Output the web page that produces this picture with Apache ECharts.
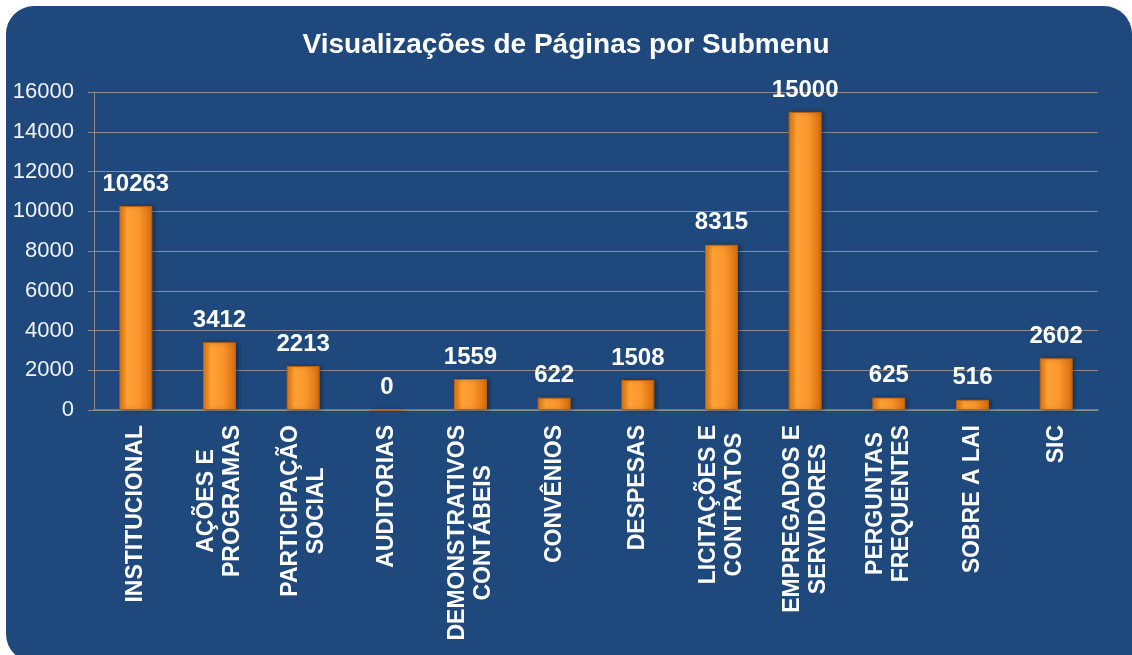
<!DOCTYPE html>
<html>
<head>
<meta charset="utf-8">
<script src="https://cdn.jsdelivr.net/npm/echarts@6/dist/echarts.min.js"></script>
<style>
  html, body { margin: 0; padding: 0; background: #fff; }
  #chart { width: 1132px; height: 655px; }
</style>
</head>
<body>
<div id="chart"></div>
<script>
// categories as written on the axis (line breaks as in the picture)
const categories = [
    'INSTITUCIONAL',
    'AÇÕES E\nPROGRAMAS',
    'PARTICIPAÇÃO\nSOCIAL',
    'AUDITORIAS',
    'DEMONSTRATIVOS\nCONTÁBEIS',
    'CONVÊNIOS',
    'DESPESAS',
    'LICITAÇÕES E\nCONTRATOS',
    'EMPREGADOS E\nSERVIDORES',
    'PERGUNTAS\nFREQUENTES',
    'SOBRE A LAI',
    'SIC'
]
const pageViews = [10263, 3412, 2213, 0, 1559, 622, 1508, 8315, 15000, 625, 516, 2602]
const yTicks = [0, 2000, 4000, 6000, 8000, 10000, 12000, 14000, 16000]

const FONT = '"Liberation Sans", Arial, sans-serif'
const PANEL = '#1f497d'

const barColor = {
    type: 'linear', x: 0, y: 0, x2: 1, y2: 0,
    colorStops: [
        { offset: 0, color: '#e07a12' },
        { offset: 0.25, color: '#ffa134' },
        { offset: 0.6, color: '#fa962c' },
        { offset: 1, color: '#d46b0e' }
    ]
}

let option = {
    animation: false,
    graphic: [
        {
            type: 'rect',
            z: -10,
            shape: { x: 6, y: 6, width: 1126, height: 656, r: 28 },
            style: { fill: PANEL }
        },
        {
            // the panel runs off the picture at the bottom right
            type: 'rect',
            z: -10,
            shape: { x: 600, y: 300, width: 540, height: 360 },
            style: { fill: PANEL }
        }
    ],
    title: {
        text: 'Visualizações de Páginas por Submenu',
        left: 'center',
        top: 26,
        textStyle: { color: '#fff', fontSize: 28, fontWeight: 'bold', fontFamily: FONT }
    },
    grid: { left: 94, right: 34, top: 92, bottom: 245 },
    xAxis: {
        type: 'category',
        data: categories,
        axisLine: { lineStyle: { color: '#8c8c8c', width: 1.5 } },
        axisTick: { length: 6, lineStyle: { color: '#8c8c8c' } },
        axisLabel: {
            rotate: 90,
            margin: 15,
            interval: 0,
            formatter: v => v.split('\n').map(s => '{c|' + s + '}').join('\n'),
            rich: {
                c: {
                    align: 'center',
                    color: '#fff',
                    fontSize: 23,
                    fontWeight: 'bold',
                    fontFamily: FONT,
                    lineHeight: 26
                }
            }
        }
    },
    yAxis: {
        type: 'value',
        min: yTicks[0],
        max: yTicks[yTicks.length - 1],
        interval: yTicks[1] - yTicks[0],
        axisLine: { show: true, lineStyle: { color: '#8c8c8c' } },
        axisTick: { show: true, length: 6, lineStyle: { color: '#8c8c8c' } },
        axisLabel: {
            color: '#f2f2f2', fontSize: 22, fontFamily: FONT, margin: 20,
            formatter: v => String(v)
        },
        splitLine: { lineStyle: { color: '#8c8c8c', width: 1 } }
    },
    series: [{
        name: 'Visualizações',
        type: 'bar',
        data: pageViews,
        barWidth: 33,
        itemStyle: {
            color: barColor,
            borderColor: '#bd600e',
            borderWidth: 1,
            shadowColor: 'rgba(0,0,0,0.35)',
            shadowBlur: 4,
            shadowOffsetX: 2
        },
        label: {
            show: true,
            position: 'top',
            distance: 10,
            color: '#fff',
            fontSize: 24,
            fontWeight: 'bold',
            fontFamily: FONT
        }
    }]
}

const chart = echarts.init(document.getElementById('chart'))
chart.setOption(option)
</script>
</body>
</html>
